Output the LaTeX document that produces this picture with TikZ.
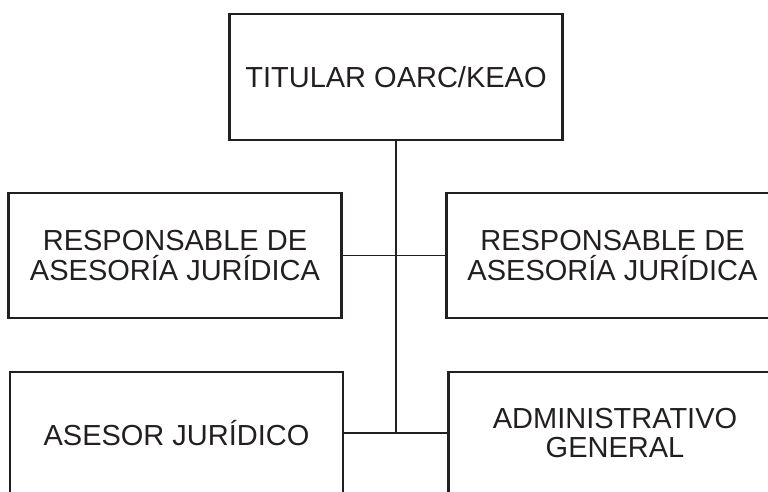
\documentclass[tikz,border=0pt]{standalone}
\usepackage{fontspec}
\setmainfont{Liberation Sans}
\definecolor{ink}{HTML}{231F20}
\begin{document}
\begin{tikzpicture}[x=1pt,y=-1pt,
  orgbox/.style={draw=ink,line width=2.3pt,rectangle,inner sep=0pt,align=center,
    text=ink,font=\fontsize{29}{29.5}\selectfont},
  link/.style={draw=ink,line width=1.7pt}]
\useasboundingbox (0,0) rectangle (768,492);
\clip (0,0) rectangle (768,492);
\node[orgbox,minimum width=333pt,minimum height=126pt] (top) at (396,77) {TITULAR OARC/KEAO};
\node[orgbox,minimum width=333pt,minimum height=124.5pt] (lm) at (175,255.5) {RESPONSABLE DE\\ASESORÍA JURÍDICA};
\node[orgbox,minimum width=332pt,minimum height=125.5pt] (rm) at (612.5,255.5) {RESPONSABLE DE\\ASESORÍA JURÍDICA};
\node[orgbox,minimum width=333pt,minimum height=122pt] (lb) at (176.5,433) {ASESOR JURÍDICO};
\node[orgbox,minimum width=333pt,minimum height=122pt] (rb) at (615,433) {ADMINISTRATIVO\\GENERAL};
\coordinate (j) at (396,433);
\draw[link] (top.south) -- (j);
\draw[link] (lm.east) -- (rm.west);
\draw[link] (lb.east) -- (rb.west);
\end{tikzpicture}
\end{document}
